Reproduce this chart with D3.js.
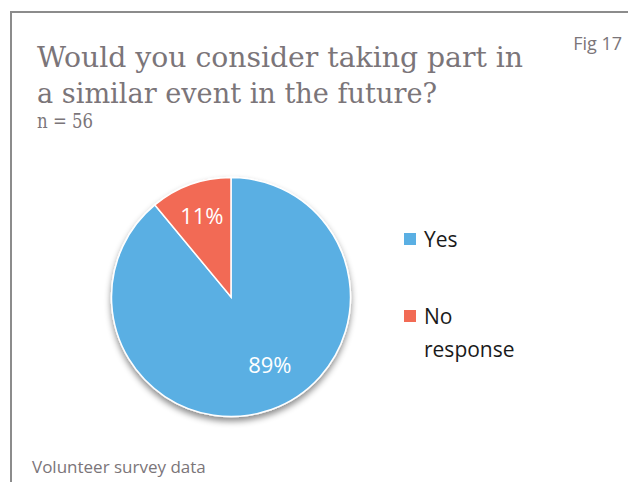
<!DOCTYPE html>
<html>
<head>
<meta charset="utf-8">
<script src="https://cdn.jsdelivr.net/npm/d3@7"></script>
<style>
  html, body { margin: 0; padding: 0; background: #fff; }
  svg { display: block; }
</style>
</head>
<body>
<svg id="chart" width="628" height="482"></svg>
<script>
// Survey answers and their shares (percent)
const categories = ["Yes", "No response"];
const values = [89, 11];
const colors = ["#5aafe3", "#f26b55"];
const titleLines = ["Would you consider taking part in", "a similar event in the future?"];
const subtitle = "n = 56";
const figLabel = "Fig 17";
const sourceNote = "Volunteer survey data";

const svg = d3.select("#chart");
const W = 628, H = 482;

// Frame (open on the right and bottom)
svg.append("path")
  .attr("d", `M11,${H} L11,12 L${W},12`)
  .attr("fill", "none")
  .attr("stroke", "#8c8c8c")
  .attr("stroke-width", 2);

const titleFont = "'DejaVu Serif Condensed', 'DejaVu Serif', 'Liberation Serif', serif";
const bodyFont = "'Open Sans', 'Liberation Sans', sans-serif";

const title = svg.append("g");
title.selectAll("text.t")
  .data(titleLines)
  .join("text")
  .attr("class", "t")
  .attr("x", 37)
  .attr("y", (d, i) => 67 + i * 36)
  .attr("font-family", titleFont)
  .attr("font-size", 27)
  .attr("textLength", (d, i) => i === 0 ? 486 : 400)
  .attr("lengthAdjust", "spacingAndGlyphs")
  .attr("fill", "#7b7579")
  .text(d => d);

svg.append("text")
  .attr("x", 37).attr("y", 128)
  .attr("font-family", titleFont)
  .attr("font-size", 20)
  .attr("textLength", 56)
  .attr("lengthAdjust", "spacingAndGlyphs")
  .attr("fill", "#7b7579")
  .text(subtitle);

svg.append("text")
  .attr("x", 622).attr("y", 50)
  .attr("text-anchor", "end")
  .attr("font-family", bodyFont)
  .attr("font-size", 18)
  .attr("fill", "#7b7579")
  .text(figLabel);

svg.append("text")
  .attr("x", 32).attr("y", 473)
  .attr("font-family", bodyFont)
  .attr("font-size", 17)
  .attr("fill", "#7b7579")
  .text(sourceNote);

// Pie
const cx = 231, cy = 297, r = 119.5;
const defs = svg.append("defs");
const f = defs.append("filter").attr("id", "shadow")
  .attr("x", "-20%").attr("y", "-20%").attr("width", "140%").attr("height", "150%");
f.append("feDropShadow")
  .attr("dx", 0).attr("dy", 4).attr("stdDeviation", 3)
  .attr("flood-color", "#000").attr("flood-opacity", 0.45);

const pie = d3.pie().sort(null).value(d => d.v);
const data = categories.map((c, i) => ({ c, v: values[i], col: colors[i] }));
const arcs = pie(data);
const arc = d3.arc().innerRadius(0).outerRadius(r);

const g = svg.append("g").attr("transform", `translate(${cx},${cy})`);
g.append("g").attr("filter", "url(#shadow)")
  .selectAll("path")
  .data(arcs)
  .join("path")
  .attr("d", arc)
  .attr("fill", d => d.data.col)
  .attr("stroke", "#fff")
  .attr("stroke-width", 1.5);

// Percentage labels: small slice near its rim, large slice a bit inward
const labelPos = d => {
  const big = d.endAngle - d.startAngle > Math.PI;
  const a = big ? (d.startAngle + d.endAngle) / 2 - 0.17 : (d.startAngle + d.endAngle) / 2;
  const rr = big ? r * 0.66 : r * 0.72;
  return [rr * Math.sin(a), -rr * Math.cos(a)];
};
g.selectAll("text.pct")
  .data(arcs)
  .join("text")
  .attr("class", "pct")
  .attr("transform", d => `translate(${labelPos(d)})`)
  .attr("text-anchor", "middle")
  .attr("dy", "0.35em")
  .attr("font-family", bodyFont)
  .attr("font-size", 22)
  .attr("fill", "#fff")
  .text(d => d.data.v + "%");

// Legend
const legend = svg.append("g");
const legY = [240, 317];
data.forEach((d, i) => {
  legend.append("rect")
    .attr("x", 404).attr("y", legY[i] - 7)
    .attr("width", 12).attr("height", 12)
    .attr("fill", d.col);
  const words = d.c.split(" ");
  const t = legend.append("text")
    .attr("font-family", bodyFont)
    .attr("font-size", 21)
    .attr("fill", "#1a1a1a");
  words.forEach((w, j) => {
    t.append("tspan").attr("x", 424).attr("y", legY[i] + 7 + j * 33).text(w);
  });
});
</script>
</body>
</html>
